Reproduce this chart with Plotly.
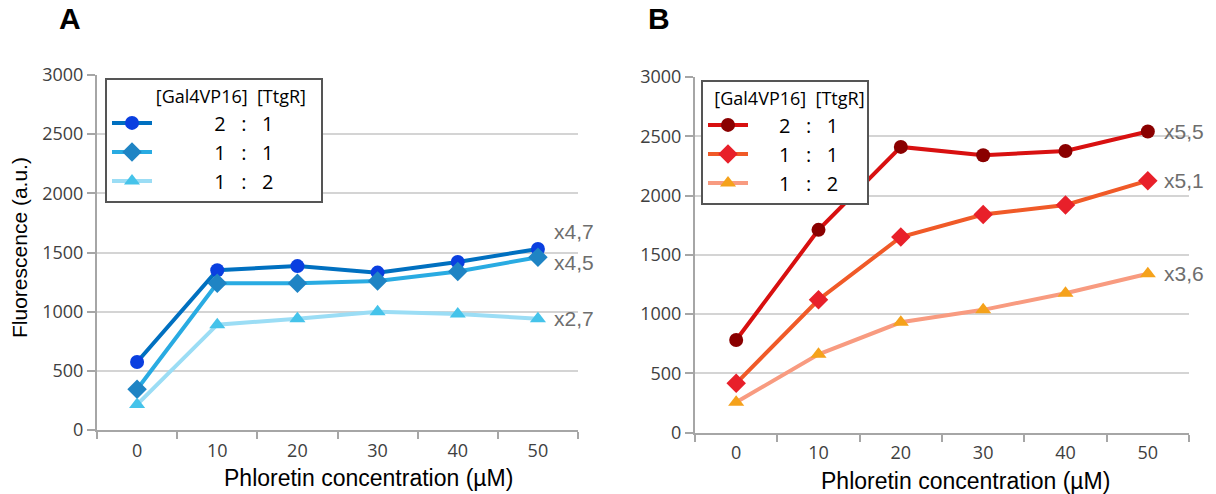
import plotly.graph_objects as go

# ---------------- data ----------------
concentrations = [0, 10, 20, 30, 40, 50]
ratio_labels = ["2 : 1", "1 : 1", "1 : 2"]

a_2to1 = [575, 1350, 1385, 1330, 1420, 1530]
a_1to1 = [345, 1240, 1240, 1260, 1340, 1460]
a_1to2 = [215, 890, 940, 1000, 980, 940]

b_2to1 = [780, 1710, 2410, 2340, 2375, 2540]
b_1to1 = [415, 1120, 1650, 1840, 1920, 2125]
b_1to2 = [255, 660, 930, 1035, 1175, 1340]

fold_a = ["x4,7", "x4,5", "x2,7"]
fold_b = ["x5,5", "x5,1", "x3,6"]
fold_a_shift = [17, -5, 0]
fold_b_shift = [0, 0, 0]

cats = [str(c) for c in concentrations]

W, H = 1216, 494

def px_x(p):
    return p / W

def px_y(p):
    return 1 - p / H

fig = go.Figure()

a_line_colors = ["#0070C0", "#29ABE2", "#9BDDF5"]
a_marker_colors = ["#0A3FE0", "#1F84C4", "#45C3EA"]
b_line_colors = ["#D81010", "#F05A28", "#F89B80"]
b_marker_colors = ["#8A0000", "#E8202A", "#F5A21B"]
symbols = ["circle", "diamond", "triangle-up"]
msizes = [14, 15, 14]

nbsp = "\u00a0"

def legend_name(lbl):
    return lbl.replace(" ", nbsp * 3)

for i, ys in enumerate([a_2to1, a_1to1, a_1to2]):
    fig.add_trace(go.Scatter(
        x=cats, y=ys, mode="lines+markers", xaxis="x", yaxis="y",
        name=nbsp * 11 + legend_name(ratio_labels[i]) + nbsp * 8,
        line=dict(color=a_line_colors[i], width=4),
        marker=dict(symbol=symbols[i], size=msizes[i], color=a_marker_colors[i]),
        legend="legend",
    ))

for i, ys in enumerate([b_2to1, b_1to1, b_1to2]):
    fig.add_trace(go.Scatter(
        x=cats, y=ys, mode="lines+markers", xaxis="x2", yaxis="y2",
        name=nbsp * 5 + legend_name(ratio_labels[i]),
        line=dict(color=b_line_colors[i], width=4),
        marker=dict(symbol=symbols[i], size=msizes[i], color=b_marker_colors[i]),
        legend="legend2",
    ))

tick_font = dict(family="Open Sans", size=18, color="#404040")
axis_col = "#A6A6A6"

def yax(domain, anchor):
    return dict(
        domain=domain, range=[0, 3000], dtick=500, tick0=0, anchor=anchor,
        showgrid=True, gridcolor="#D4D4D4", gridwidth=2,
        showline=True, linecolor=axis_col, linewidth=2,
        ticks="outside", ticklen=8, tickwidth=2, tickcolor=axis_col,
        tickfont=tick_font, zeroline=False, fixedrange=True, automargin=False,
    )

def xax(domain, anchor):
    return dict(
        domain=domain, type="category", range=[-0.5, 5.5],
        tickson="boundaries", ticks="outside", ticklen=7, tickwidth=2,
        tickcolor=axis_col, showline=True, linecolor=axis_col, linewidth=2,
        showgrid=False, tickfont=tick_font, anchor=anchor, zeroline=False,
        ticklabelstandoff=3, automargin=False, fixedrange=True,
    )

fig.update_layout(
    width=W, height=H, autosize=False,
    margin=dict(l=0, r=0, t=0, b=0, pad=0, autoexpand=False),
    paper_bgcolor="white", plot_bgcolor="white",
    xaxis=xax([px_x(97), px_x(578)], "y"),
    yaxis=yax([px_y(430), px_y(75)], "x"),
    xaxis2=xax([px_x(695), px_x(1189)], "y2"),
    yaxis2=yax([px_y(432.5), px_y(77)], "x2"),
    legend=dict(
        x=px_x(105), y=px_y(78), xanchor="left", yanchor="top",
        bgcolor="white", bordercolor="#555555", borderwidth=2,
        font=dict(family="Open Sans", size=20, color="#000000"),
        title=dict(text=nbsp * 10 + "[Gal4VP16]" + nbsp * 2 + "[TtgR]",
                   font=dict(family="Open Sans", size=18, color="#000000")),
        itemwidth=40, traceorder="normal",
    ),
    legend2=dict(
        x=px_x(701), y=px_y(80), xanchor="left", yanchor="top",
        bgcolor="white", bordercolor="#555555", borderwidth=2,
        font=dict(family="Open Sans", size=20, color="#000000"),
        title=dict(text=nbsp * 2 + "[Gal4VP16]" + nbsp * 2 + "[TtgR]",
                   font=dict(family="Open Sans", size=18, color="#000000")),
        itemwidth=40, traceorder="normal",
    ),
    showlegend=True,
)

ann = []
last = len(concentrations) - 1
fold_font = dict(family="Liberation Sans", size=21, color="#6E6E6E")
for txt, ys, sh in zip(fold_a, [a_2to1, a_1to1, a_1to2], fold_a_shift):
    ann.append(dict(x=last, y=ys[-1], xref="x", yref="y", text=txt, showarrow=False,
                    xanchor="left", yanchor="middle", xshift=14, yshift=sh, font=fold_font))
for txt, ys, sh in zip(fold_b, [b_2to1, b_1to1, b_1to2], fold_b_shift):
    ann.append(dict(x=last, y=ys[-1], xref="x2", yref="y2", text=txt, showarrow=False,
                    xanchor="left", yanchor="middle", xshift=14, yshift=sh, font=fold_font))

xt_font = dict(family="Liberation Sans", size=23, color="#000000")
yt_font = dict(family="Liberation Sans", size=21, color="#000000")
ann += [
    dict(x=px_x(368), y=px_y(478), xref="paper", yref="paper", text="Phloretin concentration (µM)",
         showarrow=False, xanchor="center", yanchor="middle", font=xt_font),
    dict(x=px_x(965), y=px_y(481), xref="paper", yref="paper", text="Phloretin concentration (µM)",
         showarrow=False, xanchor="center", yanchor="middle", font=xt_font),
    dict(x=px_x(20), y=px_y(248), xref="paper", yref="paper", text="Fluorescence (a.u.)",
         showarrow=False, xanchor="center", yanchor="middle", textangle=-90, font=yt_font),
    dict(x=px_x(70), y=px_y(19), xref="paper", yref="paper", text="<b>A</b>",
         showarrow=False, xanchor="center", yanchor="middle",
         font=dict(family="Liberation Sans", size=30, color="#000000")),
    dict(x=px_x(659), y=px_y(19), xref="paper", yref="paper", text="<b>B</b>",
         showarrow=False, xanchor="center", yanchor="middle",
         font=dict(family="Liberation Sans", size=30, color="#000000")),
]
fig.update_layout(annotations=ann)

fig.write_html("out.html", post_script="document.body.style.margin='0px';",
               config={"displayModeBar": False})
